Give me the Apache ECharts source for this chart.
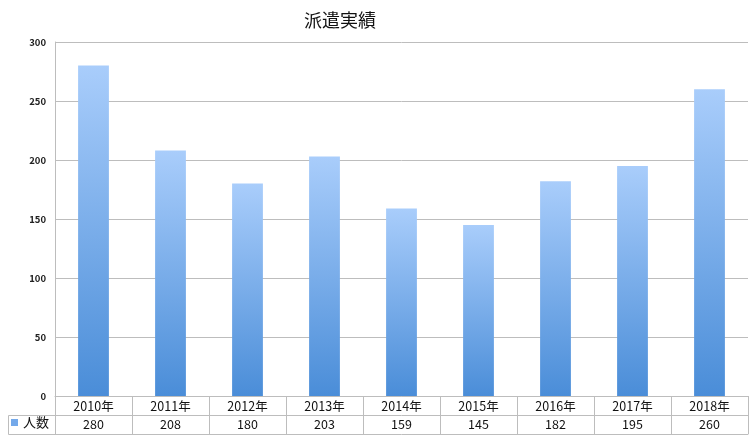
<!DOCTYPE html>
<html>
<head>
<meta charset="utf-8">
<script src="https://cdn.jsdelivr.net/npm/echarts@6/dist/echarts.min.js"></script>
<style>html,body{margin:0;padding:0;background:#fff}#c{width:750px;height:443px}</style>
</head>
<body>
<div id="c"></div>
<script>
var categories = ['2010年','2011年','2012年','2013年','2014年','2015年','2016年','2017年','2018年'];
var values = [280, 208, 180, 203, 159, 145, 182, 195, 260];
var seriesName = '人数';
var yTicks = [0, 50, 100, 150, 200, 250, 300];

var chart = echarts.init(document.getElementById('c'));
var font = '"Noto Sans CJK JP", "Noto Sans", sans-serif';
var lineColor = '#bdbdbd';
var gridLeft = 55, gridRight = 2, gridTop = 42, gridBottom = 47;
var H = 443, W = 750;
var axisY = H - gridBottom;
var row1 = 19, row2 = 38;

chart.setOption({
  animation: false,
  textStyle: { fontFamily: font },
  title: {
    text: '派遣実績',
    left: 299, top: 6,
    textStyle: { fontSize: 18, fontWeight: 'normal', color: '#111', fontFamily: font }
  },
  legend: {
    data: [{ name: seriesName, itemStyle: { color: '#74a9ea' } }],
    left: 11, top: axisY + row1 + 1,
    icon: 'rect', itemWidth: 7, itemHeight: 7, itemGap: 0,
    textStyle: { fontSize: 13, color: '#111', padding: [0,0,0,0] },
    padding: 0
  },
  grid: { left: gridLeft, right: gridRight, top: gridTop, bottom: gridBottom },
  xAxis: [
    {
      type: 'category', data: categories, position: 'bottom',
      axisLine: { show: true, lineStyle: { color: lineColor, width: 1 } },
      axisTick: { show: true, interval: 0, length: row2, lineStyle: { color: lineColor } },
      axisLabel: { interval: 0, margin: 4, fontSize: 12.5, color: '#111' }
    },
    {
      type: 'category', data: values.map(String), position: 'bottom', offset: row1,
      axisLine: { show: true, lineStyle: { color: lineColor, width: 1 } },
      axisTick: { show: false },
      axisLabel: { interval: 0, margin: 3, fontSize: 12.5, color: '#111' }
    },
    {
      type: 'category', data: categories, position: 'bottom', offset: row2,
      axisLine: { show: true, lineStyle: { color: lineColor, width: 1 } },
      axisTick: { show: false },
      axisLabel: { show: false }
    }
  ],
  yAxis: {
    type: 'value', min: yTicks[0], max: yTicks[yTicks.length-1], interval: 50,
    axisLine: { show: true, lineStyle: { color: lineColor } },
    axisTick: { show: false },
    axisLabel: { margin: 9, fontSize: 9.5, color: '#222', fontWeight: 'bold' },
    splitLine: { show: true, lineStyle: { color: lineColor } }
  },
  graphic: [
    { type: 'line', shape: { x1: 8.5, y1: axisY + row1 + 0.5, x2: gridLeft, y2: axisY + row1 + 0.5 }, style: { stroke: lineColor, lineWidth: 1 } },
    { type: 'line', shape: { x1: 8.5, y1: axisY + row2 + 0.5, x2: gridLeft, y2: axisY + row2 + 0.5 }, style: { stroke: lineColor, lineWidth: 1 } },
    { type: 'line', shape: { x1: 8.5, y1: axisY + row1 + 0.5, x2: 8.5, y2: axisY + row2 + 0.5 }, style: { stroke: lineColor, lineWidth: 1 } }
  ],
  series: [{
    name: seriesName, type: 'bar', data: values, barWidth: '40%',
    itemStyle: {
      color: new echarts.graphic.LinearGradient(0, 0, 0, 1, [
        { offset: 0, color: '#a9cdfb' },
        { offset: 1, color: '#4a8dd8' }
      ])
    }
  }]
});
</script>
</body>
</html>
